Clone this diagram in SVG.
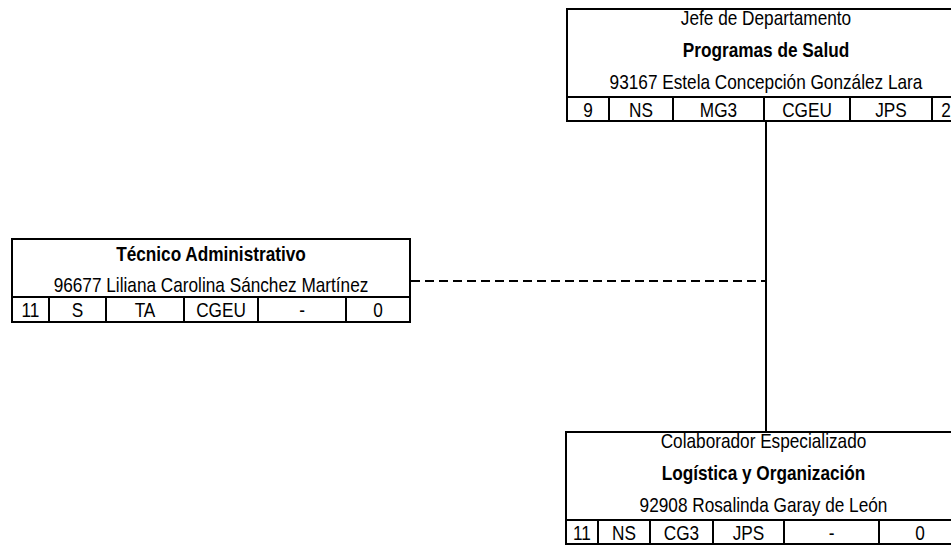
<svg xmlns="http://www.w3.org/2000/svg" width="951" height="546" viewBox="0 0 951 546">
<style>
text{font-family:"Liberation Sans",Arial,sans-serif;font-size:21px;fill:#000;text-anchor:middle}
.b{font-weight:bold}
.box{fill:#fff;stroke:#000;stroke-width:2}
.ln{stroke:#000;stroke-width:2;fill:none}
.dash{stroke:#000;stroke-width:2;fill:none;stroke-dasharray:9 5}
</style>
<rect width="951" height="546" fill="#fff"/>
<g id="connectors">
<line class="ln" x1="766" y1="121" x2="766" y2="432"/>
<line class="dash" x1="411" y1="281" x2="766" y2="281"/>
</g>
<g id="jefe">
<rect class="box" x="567" y="9" width="398" height="112"/>
<line class="ln" x1="567" y1="97" x2="965" y2="97"/>
<line class="ln" x1="609" y1="97" x2="609" y2="121"/>
<line class="ln" x1="673" y1="97" x2="673" y2="121"/>
<line class="ln" x1="764" y1="97" x2="764" y2="121"/>
<line class="ln" x1="850" y1="97" x2="850" y2="121"/>
<line class="ln" x1="932" y1="97" x2="932" y2="121"/>
<g transform="scale(0.82 1)">
<text x="934.15" y="25">Jefe de Departamento</text>
<text class="b" x="934.15" y="57">Programas de Salud</text>
<text x="934.15" y="89">93167 Estela Concepción González Lara</text>
<text x="717.07" y="117">9</text>
<text x="781.71" y="117">NS</text>
<text x="876.22" y="117">MG3</text>
<text x="984.15" y="117">CGEU</text>
<text x="1086.59" y="117">JPS</text>
<text x="1153.66" y="117">2</text>
</g>
</g>
<g id="tecnico">
<rect class="box" x="12" y="239" width="398" height="83"/>
<line class="ln" x1="12" y1="297" x2="410" y2="297"/>
<line class="ln" x1="49" y1="297" x2="49" y2="322"/>
<line class="ln" x1="106" y1="297" x2="106" y2="322"/>
<line class="ln" x1="184" y1="297" x2="184" y2="322"/>
<line class="ln" x1="258" y1="297" x2="258" y2="322"/>
<line class="ln" x1="346" y1="297" x2="346" y2="322"/>
<g transform="scale(0.82 1)">
<text class="b" x="257.32" y="261">Técnico Administrativo</text>
<text x="257.32" y="292">96677 Liliana Carolina Sánchez Martínez</text>
<text x="37.2" y="317">11</text>
<text x="94.51" y="317">S</text>
<text x="176.83" y="317">TA</text>
<text x="269.51" y="317">CGEU</text>
<text x="368.29" y="317">-</text>
<text x="460.98" y="317">0</text>
</g>
</g>
<g id="colaborador">
<rect class="box" x="566" y="432" width="395" height="112"/>
<line class="ln" x1="566" y1="520" x2="961" y2="520"/>
<line class="ln" x1="598" y1="520" x2="598" y2="544"/>
<line class="ln" x1="650" y1="520" x2="650" y2="544"/>
<line class="ln" x1="713" y1="520" x2="713" y2="544"/>
<line class="ln" x1="784" y1="520" x2="784" y2="544"/>
<line class="ln" x1="879" y1="520" x2="879" y2="544"/>
<g transform="scale(0.82 1)">
<text x="931.1" y="448">Colaborador Especializado</text>
<text class="b" x="931.1" y="480">Logística y Organización</text>
<text x="931.1" y="512">92908 Rosalinda Garay de León</text>
<text x="709.76" y="540">11</text>
<text x="760.98" y="540">NS</text>
<text x="831.1" y="540">CG3</text>
<text x="912.8" y="540">JPS</text>
<text x="1014.02" y="540">-</text>
<text x="1121.95" y="540">0</text>
</g>
</g>
</svg>
